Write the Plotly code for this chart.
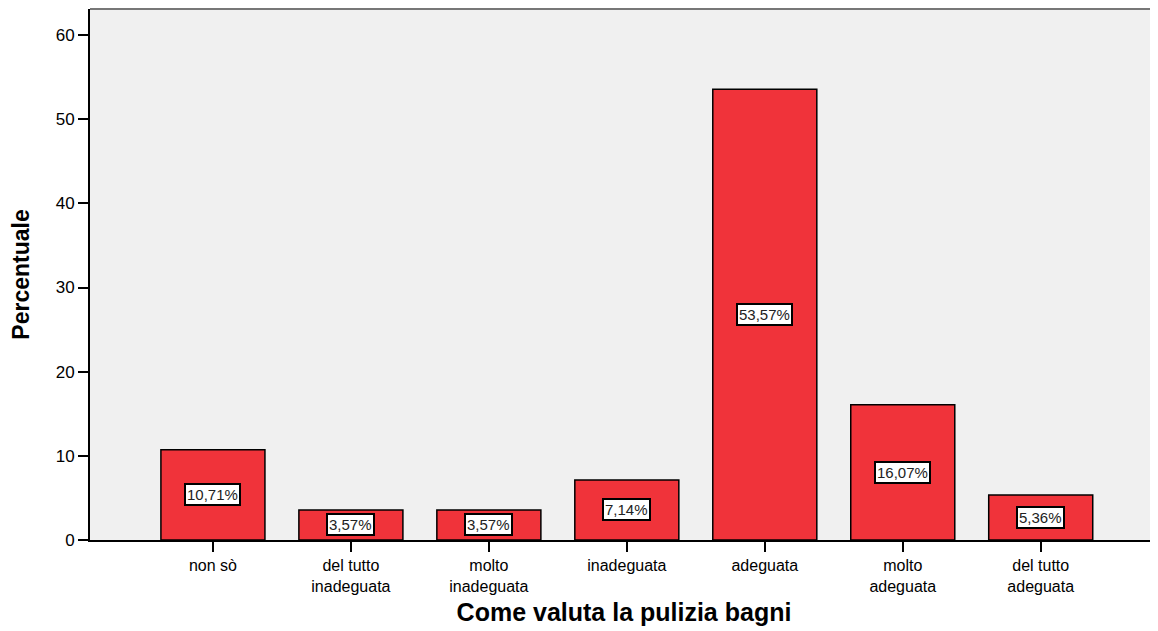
import plotly.graph_objects as go

categorie = ["non sò", "del tutto<br>inadeguata", "molto<br>inadeguata", "inadeguata",
             "adeguata", "molto<br>adeguata", "del tutto<br>adeguata"]
percentuali = [10.71, 3.57, 3.57, 7.14, 53.57, 16.07, 5.36]
etichette = ["10,71%", "3,57%", "3,57%", "7,14%", "53,57%", "16,07%", "5,36%"]

fig = go.Figure()
fig.add_trace(go.Bar(
    x=list(range(len(categorie))), y=percentuali,
    width=0.754,
    marker=dict(color="#F0333A", line=dict(color="black", width=1.5)),
    hoverinfo="skip",
))

for i, (v, t) in enumerate(zip(percentuali, etichette)):
    fig.add_annotation(x=i, y=v / 2, text=t, showarrow=False,
                       font=dict(family="Liberation Sans, Arial", size=15, color="#222"),
                       bgcolor="white", bordercolor="black", borderwidth=2, borderpad=1)

fig.add_shape(type="line", xref="paper", yref="paper", x0=0, x1=1, y0=1, y1=1,
              line=dict(color="#777777", width=2))

# la pagina ha un margine di 8px, quindi la figura è 1150x623
fig.update_layout(
    width=1150, height=623,
    margin=dict(l=82, r=0, t=1, b=91),
    paper_bgcolor="white", plot_bgcolor="#F0F0F0",
    showlegend=False,
    font=dict(family="Liberation Sans, Arial", color="black"),
)
fig.update_xaxes(
    tickmode="array", tickvals=list(range(len(categorie))), ticktext=categorie,
    range=[-0.891, 6.85], showgrid=False, zeroline=False, automargin=False,
    showline=True, linecolor="black", linewidth=1.5,
    ticks="outside", ticklen=10, tickwidth=2, tickcolor="black",
    tickfont=dict(size=16),
    title=dict(text="<b>Come valuta la pulizia bagni</b>", font=dict(size=25), standoff=10),
)
fig.update_yaxes(
    range=[0, 63.1], tickvals=[0, 10, 20, 30, 40, 50, 60],
    showgrid=False, zeroline=False, automargin=False,
    showline=True, linecolor="black", linewidth=2,
    ticks="outside", ticklen=10, tickwidth=2, tickcolor="black",
    tickfont=dict(size=17),
    title=dict(text="<b>Percentuale</b>",
               font=dict(size=23, family="Liberation Sans Narrow, Liberation Sans, Arial"),
               standoff=21),
)

fig.write_html("out.html")
